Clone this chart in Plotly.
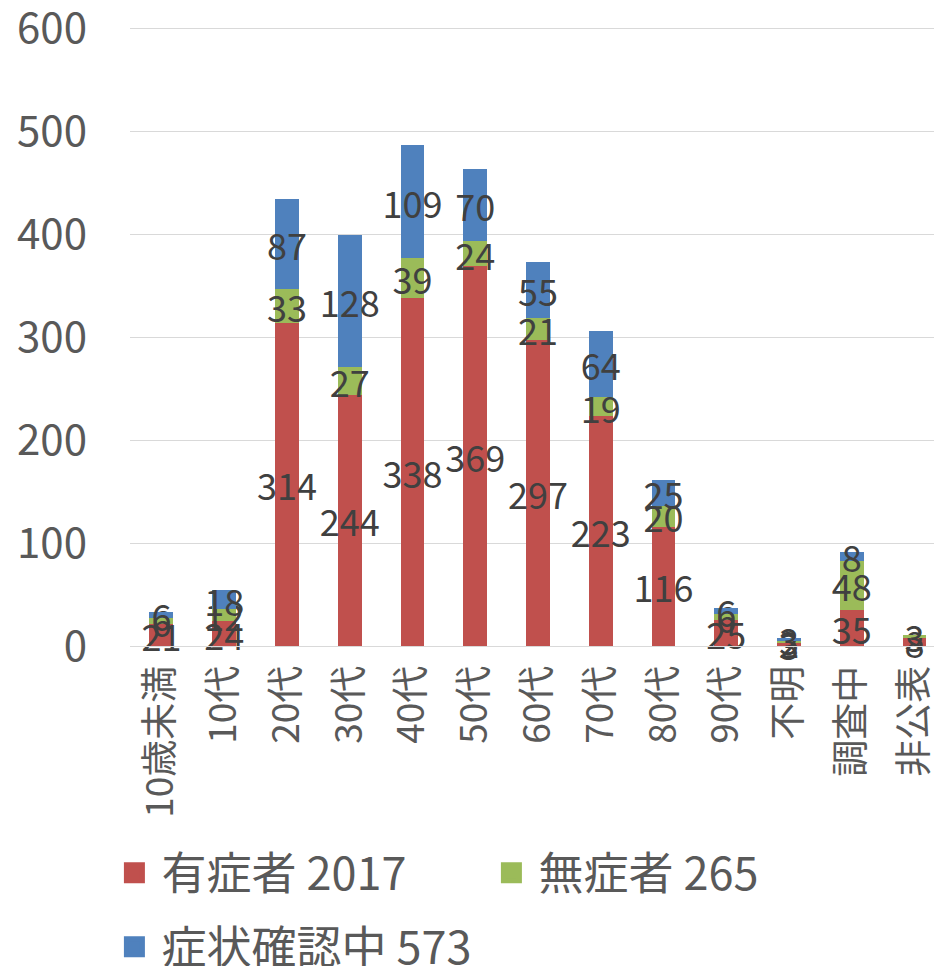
import plotly.graph_objects as go

categories = ["10歳未満", "10代", "20代", "30代", "40代", "50代", "60代",
              "70代", "80代", "90代", "不明", "調査中", "非公表"]
symptomatic = [21, 24, 314, 244, 338, 369, 297, 223, 116, 25, 3, 35, 8]
asymptomatic = [6, 12, 33, 27, 39, 24, 21, 19, 20, 6, 2, 48, 3]
checking = [6, 18, 87, 128, 109, 70, 55, 64, 25, 6, 3, 8, 0]

series_names = ["有症者 2017", "無症者 265", "症状確認中 573"]
series_colors = ["#C0504D", "#9BBB59", "#4F81BD"]
y_ticks = [0, 100, 200, 300, 400, 500, 600]

FONT = "Noto Sans CJK JP"

fig = go.Figure()
for name, vals, col in zip(series_names, [symptomatic, asymptomatic, checking], series_colors):
    fig.add_trace(go.Bar(
        x=categories, y=vals, name=name, showlegend=False,
        marker=dict(color=col, line=dict(width=0)),
        text=[str(v) if v != 0 else "" for v in vals],
        textposition="inside", insidetextanchor="middle", textangle=0,
        constraintext="none", cliponaxis=False,
        textfont=dict(family=FONT, size=36, color="#404040"),
        hoverinfo="skip",
    ))

# legend entries (square swatches)
legend_ids = ["legend", "legend", "legend2"]
for name, col, lg in zip(series_names, series_colors, legend_ids):
    fig.add_trace(go.Scatter(
        x=[None], y=[None], mode="markers", name=name, legend=lg,
        marker=dict(symbol="square", size=16, color=col, line=dict(color=col, width=5)),
        showlegend=True, hoverinfo="skip",
    ))

legend_common = dict(
    orientation="h", xanchor="left", yanchor="middle",
    xref="container", yref="container",
    font=dict(family=FONT, size=45, color="#595959"),
    itemclick=False, itemdoubleclick=False, bgcolor="rgba(0,0,0,0)",
    traceorder="normal", itemwidth=44, itemsizing="trace",
)

fig.update_layout(
    barmode="stack",
    bargap=0.62,
    width=934, height=966,
    margin=dict(l=130, r=0, t=27, b=320, autoexpand=False),
    paper_bgcolor="white", plot_bgcolor="white",
    font=dict(family=FONT, color="#595959"),
    uniformtext=dict(minsize=36, mode="show"),
    hovermode=False,
    legend=dict(x=0.115, y=0.0963, entrywidth=318, entrywidthmode="pixels", **legend_common),
    legend2=dict(x=0.115, y=0.0197, **legend_common),
)
fig.update_xaxes(
    type="category", range=[-0.5, 12.31], automargin=False,
    tickangle=-90, tickfont=dict(family=FONT, size=37, color="#595959"),
    showline=True, linecolor="#d9d9d9", linewidth=1,
    showgrid=False, ticks="", ticklabelstandoff=4,
)
fig.update_yaxes(
    range=[0, 601], tickvals=y_ticks, ticklabeloverflow="allow", automargin=False,
    tickfont=dict(family=FONT, size=42, color="#595959"),
    showgrid=True, gridcolor="#d9d9d9", gridwidth=1,
    zeroline=False, showline=False, ticks="", ticklabelstandoff=42,
)

fig.write_html(
    "out.html",
    config={"displayModeBar": False},
    post_script="document.body.style.margin='0';document.body.style.overflow='hidden';",
)
